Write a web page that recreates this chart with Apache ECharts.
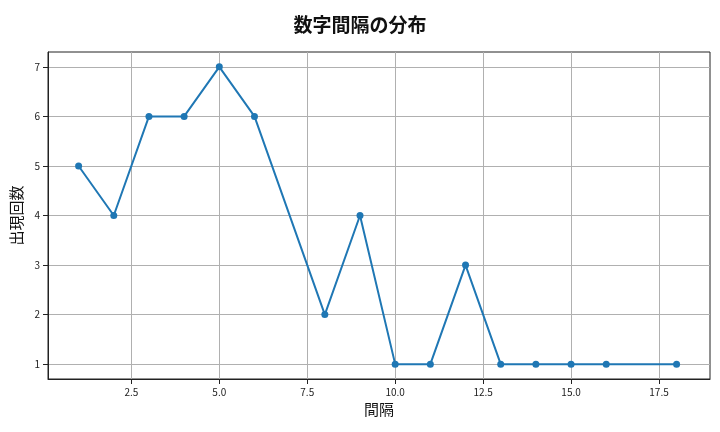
<!DOCTYPE html>
<html><head><meta charset="utf-8">
<script src="https://cdn.jsdelivr.net/npm/echarts@6/dist/echarts.min.js"></script>
<style>html,body{margin:0;padding:0}#c{width:720px;height:432px}</style>
</head><body><div id="c"></div>
<script>
const xValues = [1,2,3,4,5,6,8,9,10,11,12,13,14,15,16,18];
const yValues = [5,4,6,6,7,6,2,4,1,1,3,1,1,1,1,1];
const xTicks = [2.5,5.0,7.5,10.0,12.5,15.0,17.5];
const yTicks = [1,2,3,4,5,6,7];
const font = '"Noto Sans CJK JP", "Noto Sans", sans-serif';
const chart = echarts.init(document.getElementById('c'));
chart.setOption({
  animation:false,
  title:{text:'数字間隔の分布',left:'center',top:10,textStyle:{fontFamily:font,fontSize:19,fontWeight:'bold',color:'#111'}},
  grid:{left:48,right:10,top:52,bottom:53,show:true,borderColor:'#222',borderWidth:1,backgroundColor:'transparent'},
  xAxis:{type:'value',min:0.13,max:18.95,name:'間隔',nameLocation:'middle',nameGap:20,
    nameTextStyle:{fontFamily:font,fontSize:15,color:'#111'},
    axisLine:{onZero:false,lineStyle:{color:'#222'}},
    axisTick:{show:true,customValues:xTicks,lineStyle:{color:'#222'}},
    axisLabel:{customValues:xTicks,formatter:v=>v.toFixed(1),fontFamily:font,fontSize:10,color:'#222'},
    splitLine:{show:true,lineStyle:{color:'#b0b0b0'}}},
  yAxis:{type:'value',min:0.7,max:7.3,name:'出現回数',nameLocation:'middle',nameGap:22,nameRotate:90,
    nameTextStyle:{fontFamily:font,fontSize:15,color:'#111'},
    axisLine:{show:true,onZero:false,lineStyle:{color:'#222'}},
    axisTick:{show:true,customValues:yTicks,lineStyle:{color:'#222'}},
    axisLabel:{customValues:yTicks,fontFamily:font,fontSize:10,color:'#222'},
    splitLine:{show:true,lineStyle:{color:'#b0b0b0'}}},
  series:[{type:'line',data:xValues.map((x,i)=>[x,yValues[i]]),symbol:'circle',symbolSize:7,
    itemStyle:{color:'#1f77b4'},lineStyle:{color:'#1f77b4',width:2}}]
});
</script></body></html>
